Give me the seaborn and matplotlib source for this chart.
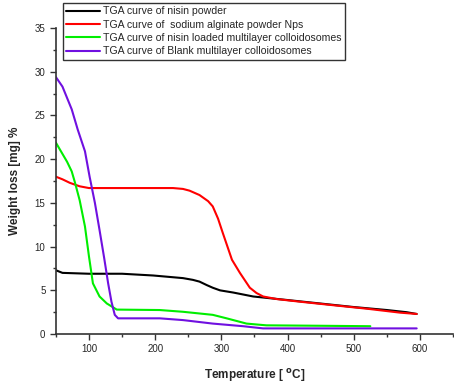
import pandas as pd
import matplotlib.pyplot as plt
from matplotlib.ticker import MultipleLocator
import seaborn as sns

# TGA curves
nisin_temp = [50, 60, 100, 150, 197, 242, 257, 267, 278, 287, 298, 318, 348, 399, 449, 499, 550, 580, 595]
nisin_loss = [7.3, 7.0, 6.9, 6.9, 6.7, 6.4, 6.2, 6.0, 5.6, 5.3, 5.0, 4.75, 4.3, 3.9, 3.5, 3.1, 2.75, 2.5, 2.3]

alginate_temp = [50, 60, 71, 86, 100, 150, 227, 242, 252, 267, 280, 287, 295, 302, 316, 328, 343, 353, 363, 384, 419, 469, 520, 570, 595]
alginate_loss = [18.0, 17.7, 17.3, 16.9, 16.7, 16.7, 16.7, 16.6, 16.4, 15.9, 15.2, 14.6, 13.2, 11.6, 8.5, 7.0, 5.3, 4.7, 4.3, 4.0, 3.7, 3.3, 2.9, 2.45, 2.3]

loaded_temp = [50, 67, 74, 79, 86, 94, 100, 106, 116, 127, 142, 207, 242, 287, 308, 338, 368, 450, 525]
loaded_loss = [21.9, 19.7, 18.6, 17.3, 15.3, 12.3, 8.9, 5.8, 4.3, 3.5, 2.8, 2.75, 2.55, 2.2, 1.8, 1.2, 1.0, 0.95, 0.9]

blank_temp = [50, 60, 74, 83, 94, 101, 109, 116, 123, 129, 134, 139, 144, 207, 242, 287, 333, 363, 450, 595]
blank_loss = [29.4, 28.3, 25.7, 23.4, 20.9, 18.0, 15.0, 11.9, 8.7, 5.8, 3.7, 2.2, 1.8, 1.8, 1.6, 1.2, 0.9, 0.65, 0.65, 0.65]

labels = [
    "TGA curve of nisin powder",
    "TGA curve of  sodium alginate powder Nps",
    "TGA curve of nisin loaded multilayer colloidosomes",
    "TGA curve of Blank multilayer colloidosomes",
]
colors = ["#000000", "#ff0000", "#00ee00", "#7010e0"]

sns.set_style("ticks")
plt.rcParams["font.family"] = ["Liberation Sans", "DejaVu Sans"]

fig = plt.figure(figsize=(4.54, 3.84), dpi=100)
ax = fig.add_axes([0.123, 0.130, 0.875, 0.797])

series = [(nisin_temp, nisin_loss), (alginate_temp, alginate_loss),
          (loaded_temp, loaded_loss), (blank_temp, blank_loss)]
for (t, w), lab, c in zip(series, labels, colors):
    df = pd.DataFrame({"temp": t, "loss": w})
    sns.lineplot(data=df, x="temp", y="loss", ax=ax, color=c, lw=1.5, label=lab)

ax.set_xlim(50, 650)
ax.set_ylim(0, 35)
ax.xaxis.set_major_locator(MultipleLocator(100))
ax.xaxis.set_minor_locator(MultipleLocator(50))
ax.yaxis.set_major_locator(MultipleLocator(5))
ax.yaxis.set_minor_locator(MultipleLocator(2.5))
ax.set_xticks([100, 200, 300, 400, 500, 600])
ax.tick_params(axis="both", which="major", labelsize=7, length=4, width=1, color="#333333")
ax.tick_params(axis="both", which="minor", length=2.5, width=1, color="#333333")
sns.despine(ax=ax)
for s in ("left", "bottom"):
    ax.spines[s].set_linewidth(1.2)
    ax.spines[s].set_color("#333333")

ax.set_xlabel("Temperature [ $^{\\mathbf{o}}$C]", fontsize=8.5, fontweight="bold", labelpad=9)
ax.set_ylabel("Weight loss [mg] %", fontsize=8.5, fontweight="bold", labelpad=10)

leg = ax.legend(loc="upper left", bbox_to_anchor=(0.139, 0.992), bbox_transform=fig.transFigure,
                fontsize=7.6, frameon=True, fancybox=False, borderaxespad=0,
                handlelength=3.2, handletextpad=0.3, labelspacing=0.32, borderpad=0.3)
leg.get_frame().set_edgecolor("black")
leg.get_frame().set_linewidth(1.0)

fig.savefig("out.png", dpi=100)
